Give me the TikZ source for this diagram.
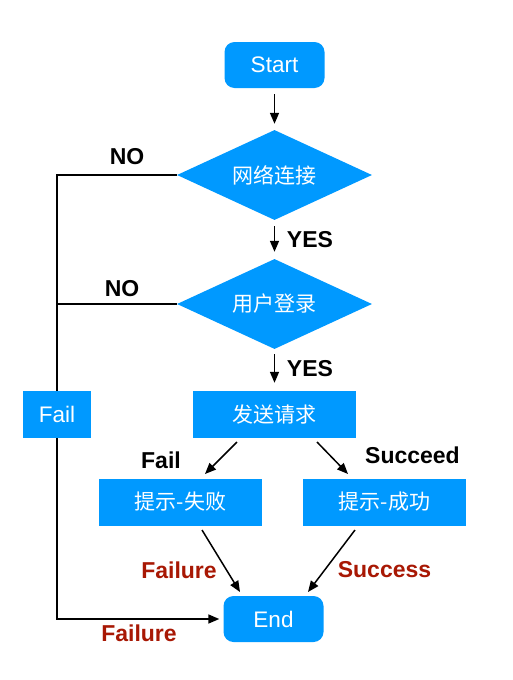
\documentclass[tikz,border=0pt]{standalone}
\usepackage{fontspec}
\setmainfont{Liberation Sans}
\newfontfamily\cjk{Noto Sans CJK SC}
\usetikzlibrary{shapes.geometric,arrows.meta,backgrounds}
\definecolor{fcblue}{RGB}{0,153,255}
\definecolor{fcred}{RGB}{168,24,4}
\tikzset{
  box/.style={fill=fcblue, text=white, inner sep=0pt, font=\fontsize{22.5}{26}\selectfont},
  term/.style={box, rounded corners=10pt, minimum width=100pt, minimum height=46pt},
  rect/.style={box, minimum height=47pt},
  decision/.style={box, diamond, aspect=2, minimum width=195pt, minimum height=90pt},
  arr/.style={line width=1.5pt, -{Stealth[length=11pt,width=9pt,inset=0pt]}},
  lbl/.style={font=\bfseries\fontsize{23}{26}\selectfont, inner sep=0pt},
  rlbl/.style={lbl, text=fcred},
  zh/.style={font=\cjk\fontsize{21}{24}\selectfont},
}
\begin{document}
\begin{tikzpicture}[x=1pt,y=-1pt]
\useasboundingbox (0,0) rectangle (512,680);
\node[term] (start) at (274.5,65) {Start};
\node[decision, zh] (d1) at (274.5,175) {网络连接};
\node[decision, zh] (d2) at (274.5,304) {用户登录};
\node[rect, zh, minimum width=163pt] (send) at (274.5,414.5) {发送请求};
\node[rect, minimum width=68pt] (fail) at (57,414.5) {Fail};
\node[rect, zh, minimum width=163pt] (f1) at (180.5,502) {提示-失败};
\node[rect, zh, minimum width=163pt] (s1) at (384.5,502) {提示-成功};
\node[term] (end) at (273.5,619) {End};

\coordinate (c1) at (57,175);
\coordinate (c2) at (57,304);
\coordinate (a1s) at (237,442);
\coordinate (a1e) at (205,474);
\coordinate (a2s) at (317,442);
\coordinate (a2e) at (348,474);
\coordinate (b1s) at (202,530);
\coordinate (b1e) at (240,592);
\coordinate (b2s) at (355,530);
\coordinate (b2e) at (308,592);

\begin{pgfonlayer}{background}
\fill[white] (0,0) rectangle (512,680);
\draw[arr, shorten >=4pt] (d1.west) -- (c1) |- (end.west);
\draw[line width=1.5pt] (d2.west) -- (c2);
\end{pgfonlayer}

\draw[arr, shorten <=6pt, shorten >=6pt] (start.south) -- (d1.north);
\draw[arr, shorten <=6pt, shorten >=7pt] (d1.south) -- (d2.north);
\draw[arr, shorten <=5pt, shorten >=8pt] (d2.south) -- (send.north);
\draw[arr] (a1s) -- (a1e);
\draw[arr] (a2s) -- (a2e);
\draw[arr] (b1s) -- (b1e);
\draw[arr] (b2s) -- (b2e);

\node[lbl] (no1) at (127,157) {NO};
\node[lbl] (no2) at (122,289) {NO};
\node[lbl] (yes1) at (310,240) {YES};
\node[lbl] (yes2) at (310,369) {YES};
\node[lbl] (lfail) at (161,460) {Fail};
\node[lbl] (lsucc) at (412.5,455) {Succeed};
\node[rlbl] (lfa1) at (179,570) {Failure};
\node[rlbl] (lsu) at (384.5,570) {Success};
\node[rlbl] (lfa2) at (139,633) {Failure};
\end{tikzpicture}
\end{document}
